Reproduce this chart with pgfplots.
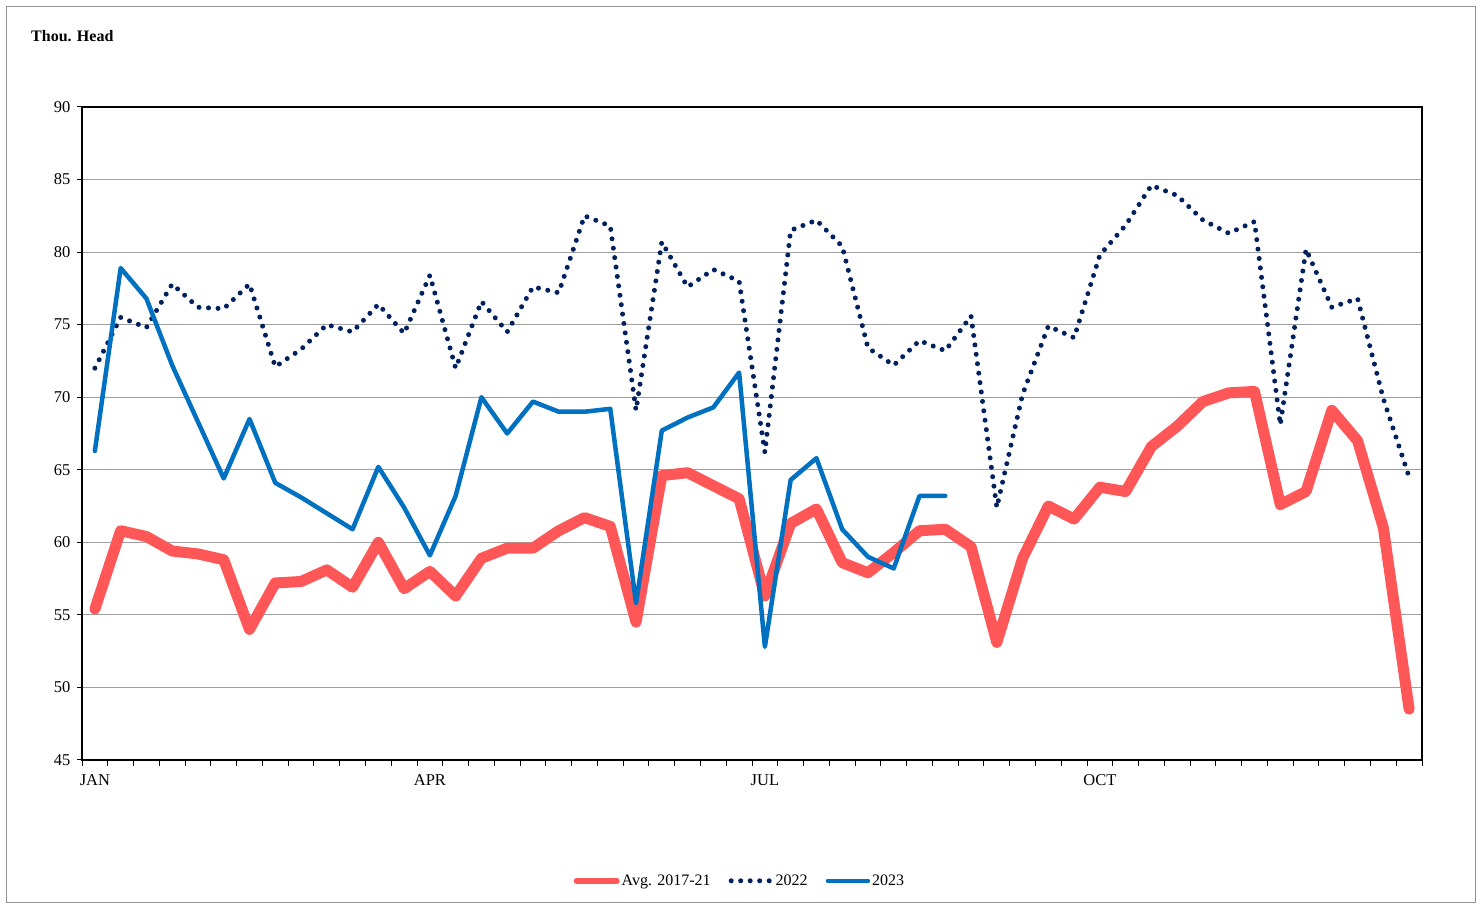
\documentclass[border=0pt]{standalone}
\usepackage{pgfplots}
\pgfplotsset{compat=1.18}
\usepackage{fontspec}
\setmainfont{Liberation Serif}
\definecolor{avgred}{RGB}{255,87,87}
\definecolor{navy22}{RGB}{0,32,96}
\definecolor{blue23}{RGB}{0,112,192}
\begin{document}
\begin{tikzpicture}[x=1pt,y=1pt]
\useasboundingbox (0,0) rectangle (1482,909);
\fill[white] (0,0) rectangle (1482,909);
\draw[gray!85, line width=1.2pt] (6.5,6.5) rectangle (1475.5,902.5);
\node[anchor=west, font=\fontsize{16}{19}\selectfont\bfseries, inner sep=0pt] at (31,873) {Thou. Head};
\begin{axis}[
  at={(82pt,149pt)}, anchor=south west, scale only axis,
  width=1340pt, height=653pt,
  xmin=-0.5, xmax=51.5, ymin=45, ymax=90,
  ytick={45,50,...,90},
  xtick={0,13,26,39}, xticklabels={JAN,APR,JUL,OCT},
  minor xtick={-0.5,0.5,...,51.5},
  tick pos=left,
  tick align=outside,
  major tick length=5pt, minor tick length=6pt,
  major x tick style={draw=none},
  tick style={black, line width=1pt},
  ymajorgrids,
  grid style={gray!75, line width=1pt},
  axis line style={black, line width=2.6pt},
  /pgf/number format/assume math mode=true,
  tick label style={font=\fontsize{16.5}{19}\selectfont},
  yticklabel style={xshift=-3pt},
  xticklabel style={yshift=-6pt},
  legend style={at={(0.491,-0.185)}, anchor=center, draw=none, fill=none,
    font=\fontsize{16}{19}\selectfont, legend columns=3,
    /tikz/every even column/.append style={column sep=16pt}},
  legend image code/.code={\draw[#1] (0pt,0pt) -- (40pt,0pt);},
]
\addplot[avgred, line width=11pt, line join=round, line cap=round,
  legend image code/.code={\draw[avgred, line width=6pt, line cap=round] (0pt,0pt) -- (40pt,0pt);}] table {
x y
0 55.4
1 60.8
2 60.4
3 59.4
4 59.2
5 58.8
6 54.0
7 57.2
8 57.3
9 58.1
10 56.9
11 60.0
12 56.8
13 58.0
14 56.3
15 58.9
16 59.6
17 59.6
18 60.8
19 61.7
20 61.1
21 54.5
22 64.6
23 64.8
24 63.9
25 63.0
26 56.3
27 61.3
28 62.3
29 58.6
30 57.9
31 59.3
32 60.8
33 60.9
34 59.7
35 53.1
36 58.9
37 62.5
38 61.6
39 63.8
40 63.5
41 66.6
42 68.0
43 69.7
44 70.3
45 70.4
46 62.6
47 63.5
48 69.1
49 67.0
50 61.0
51 48.5
};
\addlegendentry{Avg. 2017-21}
\addplot[navy22, line width=5pt, line cap=round, dash pattern=on 0pt off 9.5pt] table {
x y
0 72.0
1 75.5
2 74.8
3 77.8
4 76.2
5 76.1
6 77.8
7 72.1
8 73.3
9 75.0
10 74.5
11 76.4
12 74.4
13 78.4
14 72.0
15 76.6
16 74.5
17 77.6
18 77.2
19 82.5
20 81.8
21 69.1
22 80.7
23 77.6
24 78.8
25 78.0
26 66.2
27 81.5
28 82.2
29 80.4
30 73.4
31 72.2
32 73.9
33 73.2
34 75.6
35 62.4
36 70.2
37 74.9
38 74.1
39 79.8
40 81.85
41 84.6
42 83.9
43 82.2
44 81.3
45 82.1
46 68.1
47 80.2
48 76.2
49 76.8
50 69.9
51 64.5
};
\addlegendentry{2022}
\addplot[blue23, line width=4.5pt, line join=round, line cap=round] table {
x y
0 66.3
1 78.9
2 76.8
3 72.2
4 68.3
5 64.4
6 68.5
7 64.1
8 63.1
9 62.0
10 60.9
11 65.2
12 62.4
13 59.1
14 63.2
15 70.0
16 67.5
17 69.7
18 69.0
19 69.0
20 69.2
21 55.8
22 67.7
23 68.6
24 69.3
25 71.7
26 52.8
27 64.3
28 65.8
29 60.9
30 59.0
31 58.2
32 63.2
33 63.2
};
\addlegendentry{2023}
\end{axis}
\end{tikzpicture}
\end{document}
